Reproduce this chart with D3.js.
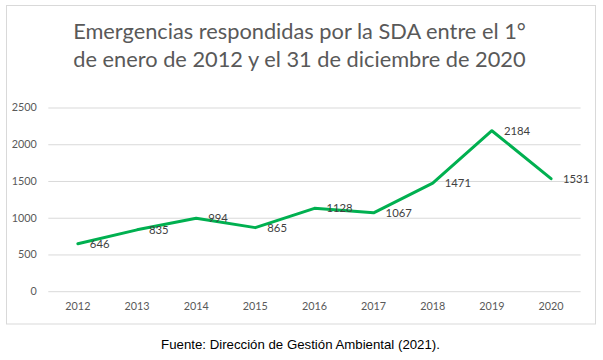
<!DOCTYPE html>
<html><head><meta charset="utf-8">
<script src="https://cdn.jsdelivr.net/npm/d3@7/dist/d3.min.js"></script>
<style>body{margin:0;background:#fff}svg{display:block}</style>
</head><body><svg id="c" width="603" height="360"></svg>
<script>
const years = ["2012","2013","2014","2015","2016","2017","2018","2019","2020"];
const emergencias = [646, 835, 994, 865, 1128, 1067, 1471, 2184, 1531];
const yTicks = [0, 500, 1000, 1500, 2000, 2500];
const titleLines = ["Emergencias respondidas por la SDA entre el 1°", "de enero de 2012 y el 31 de diciembre de 2020"];
const fuente = "Fuente: Dirección de Gestión Ambiental (2021).";

const svg = d3.select("#c");
const FONT = "Lato, 'Open Sans', sans-serif";
const pLeft = 48.3, pRight = 580.6, pTop = 107.5, pBottom = 291.2;

svg.append("rect").attr("x", 6.5).attr("y", 5.5).attr("width", 589).attr("height", 318.5)
  .attr("fill", "#fff").attr("stroke", "#d9d9d9").attr("stroke-width", 1);

const x = d3.scaleBand().domain(years).range([pLeft, pRight]);
const y = d3.scaleLinear().domain([0, 2500]).range([pBottom, pTop]);
const cx = d => x(d) + x.bandwidth() / 2;

// Y axis with gridlines
const gy = svg.append("g").attr("transform", `translate(${pLeft},0)`)
  .call(d3.axisLeft(y).tickValues(yTicks).tickFormat(d3.format("d"))
    .tickSizeInner(-(pRight - pLeft)).tickSizeOuter(0).tickPadding(11.6));
gy.select(".domain").remove();
gy.selectAll(".tick line").attr("stroke", "#d9d9d9").attr("stroke-width", 1);
gy.selectAll(".tick text").attr("fill", "#595959").style("font-family", FONT).style("font-size", "10.8px");

// X axis
const gx = svg.append("g").attr("transform", `translate(0,${pBottom})`)
  .call(d3.axisBottom(x).tickSize(0).tickPadding(11.2));
gx.select(".domain").remove();
gx.selectAll(".tick text").attr("fill", "#595959").style("font-family", FONT).style("font-size", "10.8px");

// Line
const line = d3.line().x((d, i) => cx(years[i])).y(d => y(d));
svg.append("path").datum(emergencias).attr("d", line)
  .attr("fill", "none").attr("stroke", "#00B050").attr("stroke-width", 3)
  .attr("stroke-linejoin", "round").attr("stroke-linecap", "round");

// Data labels (right)
svg.append("g").selectAll("text").data(emergencias).join("text")
  .attr("x", (d, i) => cx(years[i]) + 12)
  .attr("y", d => y(d))
  .attr("dy", "0.35em")
  .attr("fill", "#404040")
  .style("font-family", FONT).style("font-size", "11.3px")
  .text(d => d);

// Title
const tl = svg.append("g").selectAll("text").data(titleLines).join("text")
  .attr("x", 299.5).attr("y", (d, i) => 38.5 + i * 28)
  .attr("text-anchor", "middle").attr("fill", "#595959")
  .style("font-family", FONT).style("font-size", "20px")
  .text(d => d);
let maxW = 0;
tl.each(function () { maxW = Math.max(maxW, this.getComputedTextLength()); });
tl.style("font-size", (20 * 453 / maxW) + "px");

// Footer
const ft = svg.append("text").attr("x", 300.5).attr("y", 348.5).attr("text-anchor", "middle")
  .attr("fill", "#000").style("font-family", "'Liberation Sans', Arial, sans-serif").style("font-size", "12px")
  .text(fuente);
const fw = ft.node().getComputedTextLength();
ft.style("font-size", (12 * 279 / fw) + "px");
</script>
</body></html>
